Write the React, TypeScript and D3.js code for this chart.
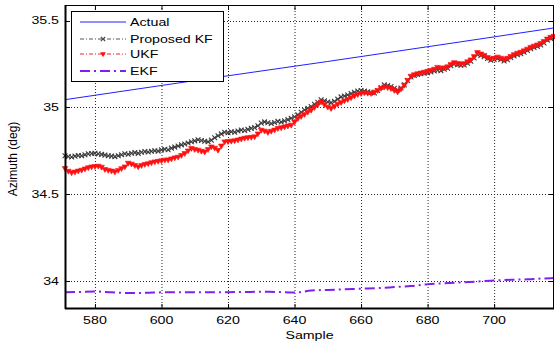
import { useEffect, useRef } from 'react';
import * as d3 from 'd3';

// sample index range
const firstSample = 571;
const lastSample = 718;

const xTicks = [580, 600, 620, 640, 660, 680, 700];
const yTicks = [34, 34.5, 35, 35.5];

// Actual (straight reference line)
const actualSamples = [571, 610, 650, 690, 718];
const actualValues = [35.045, 35.155, 35.265, 35.378, 35.458];

// Proposed KF, one value per sample 571..718
const kfValues = [
  34.722, 34.718, 34.715, 34.72, 34.724, 34.722, 34.728, 34.733, 34.735, 34.737,
  34.733, 34.73, 34.726, 34.722, 34.72, 34.717, 34.722, 34.728, 34.734, 34.731,
  34.737, 34.74, 34.736, 34.742, 34.746, 34.744, 34.748, 34.751, 34.749, 34.756,
  34.76, 34.757, 34.766, 34.772, 34.778, 34.785, 34.79, 34.796, 34.803, 34.808,
  34.814, 34.81, 34.806, 34.803, 34.812, 34.826, 34.837, 34.848, 34.857, 34.855,
  34.86, 34.858, 34.865, 34.87, 34.868, 34.874, 34.88, 34.884, 34.895, 34.91,
  34.917, 34.912, 34.908, 34.914, 34.92, 34.916, 34.923, 34.93, 34.938, 34.946,
  34.958, 34.972, 34.986, 34.996, 35.005, 35.018, 35.03, 35.044, 35.038, 35.032,
  35.028, 35.035, 35.048, 35.061, 35.066, 35.072, 35.08, 35.088, 35.095, 35.098,
  35.094, 35.09, 35.087, 35.084, 35.098, 35.115, 35.13, 35.126, 35.121, 35.11,
  35.101, 35.112, 35.13, 35.155, 35.176, 35.184, 35.19, 35.195, 35.198, 35.2,
  35.205, 35.21, 35.214, 35.212, 35.22, 35.226, 35.24, 35.25, 35.246, 35.243,
  35.245, 35.255, 35.266, 35.285, 35.305, 35.3, 35.292, 35.282, 35.272, 35.276,
  35.282, 35.276, 35.268, 35.275, 35.288, 35.296, 35.304, 35.31, 35.318, 35.328,
  35.338, 35.345, 35.352, 35.36, 35.372, 35.388, 35.398, 35.404,
];

// UKF, one value per sample 571..718
const ukfValues = [
  34.651, 34.635, 34.626, 34.63, 34.636, 34.641, 34.648, 34.655, 34.66, 34.662,
  34.664, 34.658, 34.645, 34.64, 34.636, 34.631, 34.64, 34.65, 34.66, 34.681,
  34.676, 34.668, 34.66, 34.668, 34.674, 34.678, 34.684, 34.689, 34.692, 34.695,
  34.699, 34.7, 34.706, 34.712, 34.716, 34.726, 34.737, 34.752, 34.766, 34.76,
  34.756, 34.75, 34.746, 34.76, 34.775, 34.768, 34.756, 34.78, 34.804, 34.806,
  34.808, 34.81, 34.815, 34.82, 34.825, 34.828, 34.83, 34.833, 34.85, 34.871,
  34.866, 34.858, 34.865, 34.872, 34.881, 34.885, 34.89, 34.895, 34.9, 34.918,
  34.938, 34.95, 34.962, 34.975, 34.986, 35.002, 35.018, 35.034, 35.018, 35.004,
  34.996, 35.008, 35.021, 35.03, 35.04, 35.048, 35.058, 35.068, 35.076, 35.082,
  35.086, 35.084, 35.082, 35.09, 35.1, 35.112, 35.12, 35.116, 35.111, 35.1,
  35.091, 35.108, 35.13, 35.158, 35.182, 35.19, 35.196, 35.2, 35.205, 35.21,
  35.215, 35.222, 35.233, 35.228, 35.23, 35.236, 35.25, 35.26, 35.255, 35.252,
  35.254, 35.265, 35.276, 35.295, 35.318, 35.31, 35.302, 35.29, 35.282, 35.285,
  35.292, 35.286, 35.278, 35.285, 35.296, 35.306, 35.314, 35.32, 35.328, 35.338,
  35.348, 35.355, 35.362, 35.37, 35.382, 35.396, 35.406, 35.412,
];

// EKF
const ekfSamples = [
  571, 575, 580, 585, 590, 595, 600, 605, 610, 615, 620, 625, 630, 635, 640,
  645, 650, 655, 660, 665, 670, 675, 680, 685, 690, 695, 700, 705, 710, 715, 718,
];
const ekfValues = [
  33.937, 33.938, 33.941, 33.936, 33.932, 33.933, 33.936, 33.937, 33.937, 33.937,
  33.937, 33.938, 33.939, 33.938, 33.935, 33.946, 33.95, 33.953, 33.957, 33.96,
  33.966, 33.972, 33.983, 33.988, 33.993, 33.998, 34.004, 34.008, 34.011, 34.016,
  34.018,
];

const legendLabels = ['Actual', 'Proposed KF', 'UKF', 'EKF'];

const W = 555;
const H = 346;
const FONT = '"Liberation Sans", Arial, Helvetica, sans-serif';
const STRETCH = 1.42;

export default function App() {
  const svgRef = useRef<SVGSVGElement>(null);

  useEffect(() => {
    if (!svgRef.current) return;
    const svg = d3.select(svgRef.current);
    svg.selectAll('*').remove();

    const left = 65, right = 554, top = 5, bottom = 309;

    const x = d3.scaleLinear().domain([firstSample, lastSample]).range([left, right]);
    const y = d3.scaleLinear().domain([33.84, 35.59]).range([bottom, top]);

    const samples = d3.range(firstSample, lastSample + 1);

    svg.append('rect').attr('width', W).attr('height', H).attr('fill', '#fff');

    // grid
    const grid = svg.append('g').attr('stroke', '#000').attr('stroke-width', 1)
      .attr('stroke-dasharray', '1,2').attr('opacity', 0.85);
    xTicks.forEach((t) => {
      grid.append('line').attr('x1', x(t) + 0.5).attr('x2', x(t) + 0.5)
        .attr('y1', top).attr('y2', bottom);
    });
    yTicks.forEach((t) => {
      grid.append('line').attr('x1', left).attr('x2', right)
        .attr('y1', Math.round(y(t)) + 0.5).attr('y2', Math.round(y(t)) + 0.5);
    });

    const plot = svg.append('g');

    // EKF
    const ekfLine = d3.line<number>()
      .x((d, i) => x(ekfSamples[i]))
      .y((d) => y(d))
      .curve(d3.curveMonotoneX);
    plot.append('path').attr('d', ekfLine(ekfValues))
      .attr('fill', 'none').attr('stroke', '#8020f0').attr('stroke-width', 2)
      .attr('stroke-dasharray', '10,4,2,4');

    // Proposed KF
    const seriesLine = d3.line<number>().x((d, i) => x(samples[i])).y((d) => y(d));
    plot.append('path').attr('d', seriesLine(kfValues))
      .attr('fill', 'none').attr('stroke', '#555').attr('stroke-width', 1)
      .attr('stroke-dasharray', '4,2,1,2');
    const cross = (g: d3.Selection<SVGGElement, unknown, null, undefined>, cx: number, cy: number, s: number, color: string) => {
      g.append('path')
        .attr('d', `M${cx - s},${cy - s}L${cx + s},${cy + s}M${cx - s},${cy + s}L${cx + s},${cy - s}`)
        .attr('stroke', color).attr('stroke-width', 1.1).attr('fill', 'none');
    };
    const kfMarks = plot.append('g');
    kfValues.forEach((v, i) => cross(kfMarks, x(samples[i]), y(v), 2.4, '#3a3a3a'));

    // UKF
    plot.append('path').attr('d', seriesLine(ukfValues))
      .attr('fill', 'none').attr('stroke', '#ff2020').attr('stroke-width', 1)
      .attr('stroke-dasharray', '4,2,1,2');
    const tri = d3.symbol().type(d3.symbolTriangle).size(14);
    plot.append('g').selectAll('path').data(ukfValues).enter().append('path')
      .attr('d', tri)
      .attr('transform', (d, i) => `translate(${x(samples[i])},${y(d)}) rotate(180)`)
      .attr('fill', '#ff1010').attr('stroke', '#ff1010').attr('stroke-width', 0.6);

    // Actual
    const actualLine = d3.line<number>().x((d, i) => x(actualSamples[i])).y((d) => y(d));
    plot.append('path').attr('d', actualLine(actualValues))
      .attr('fill', 'none').attr('stroke', '#2020ff').attr('stroke-width', 1);

    // frame and ticks
    svg.append('rect').attr('x', left + 0.5).attr('y', top + 0.5)
      .attr('width', right - left - 1).attr('height', bottom - top - 1)
      .attr('fill', 'none').attr('stroke', '#000').attr('stroke-width', 1);
    svg.append('line').attr('x1', left + 0.5).attr('x2', left + 0.5).attr('y1', top).attr('y2', bottom)
      .attr('stroke', '#000').attr('stroke-width', 2);
    svg.append('line').attr('x1', left).attr('x2', right).attr('y1', bottom - 0.5).attr('y2', bottom - 0.5)
      .attr('stroke', '#000').attr('stroke-width', 2);

    const ticks = svg.append('g').attr('stroke', '#000').attr('stroke-width', 1);
    const tl = 5;
    xTicks.forEach((t) => {
      const px = x(t) + 0.5;
      ticks.append('line').attr('x1', px).attr('x2', px).attr('y1', bottom).attr('y2', bottom - tl);
      ticks.append('line').attr('x1', px).attr('x2', px).attr('y1', top).attr('y2', top + tl);
    });
    yTicks.forEach((t) => {
      const py = Math.round(y(t)) + 0.5;
      ticks.append('line').attr('x1', left).attr('x2', left + tl).attr('y1', py).attr('y2', py);
      ticks.append('line').attr('x1', right).attr('x2', right - tl).attr('y1', py).attr('y2', py);
    });

    const label = (tx: number, ty: number, text: string, anchor: string) => {
      svg.append('text')
        .attr('transform', `translate(${tx},${ty}) scale(${STRETCH},1)`)
        .attr('text-anchor', anchor)
        .style('font-family', FONT).style('font-size', '10px').style('fill', '#000')
        .text(text);
    };

    xTicks.forEach((t) => label(x(t), 324, String(t), 'middle'));
    yTicks.forEach((t) => label(59, y(t) + 3.5, String(t), 'end'));
    label((left + right) / 2, 339, 'Sample', 'middle');

    svg.append('text')
      .attr('transform', `translate(17,${(top + bottom) / 2 + 2}) rotate(-90)`)
      .attr('text-anchor', 'middle')
      .style('font-family', FONT).style('font-size', '12px').style('fill', '#000')
      .text('Azimuth (deg)');

    // legend
    const lg = svg.append('g');
    lg.append('rect').attr('x', 71.5).attr('y', 11.5).attr('width', 152).attr('height', 70)
      .attr('fill', '#fff').attr('stroke', '#000').attr('stroke-width', 1);
    const rowY = [22, 39, 54, 71];
    const lx1 = 80, lx2 = 126;
    lg.append('line').attr('x1', lx1).attr('x2', lx2).attr('y1', rowY[0]).attr('y2', rowY[0])
      .attr('stroke', '#2020ff').attr('stroke-width', 1);
    lg.append('line').attr('x1', lx1).attr('x2', lx2).attr('y1', rowY[1]).attr('y2', rowY[1])
      .attr('stroke', '#555').attr('stroke-width', 1).attr('stroke-dasharray', '4,2,1,2');
    cross(lg, (lx1 + lx2) / 2, rowY[1], 2.2, '#444');
    lg.append('line').attr('x1', lx1).attr('x2', lx2).attr('y1', rowY[2]).attr('y2', rowY[2])
      .attr('stroke', '#ff2020').attr('stroke-width', 1).attr('stroke-dasharray', '4,2,1,2');
    lg.append('path').attr('d', tri)
      .attr('transform', `translate(${(lx1 + lx2) / 2},${rowY[2]}) rotate(180)`)
      .attr('fill', '#ff1010');
    lg.append('line').attr('x1', lx1).attr('x2', lx2).attr('y1', rowY[3]).attr('y2', rowY[3])
      .attr('stroke', '#8020f0').attr('stroke-width', 2).attr('stroke-dasharray', '10,4,2,4');
    legendLabels.forEach((t, i) => label(130, rowY[i] + 4, t, 'start'));
  }, []);

  return (
    <svg ref={svgRef} width={W} height={H}
      style={{ position: 'absolute', left: 0, top: 0, display: 'block' }} />
  );
}
